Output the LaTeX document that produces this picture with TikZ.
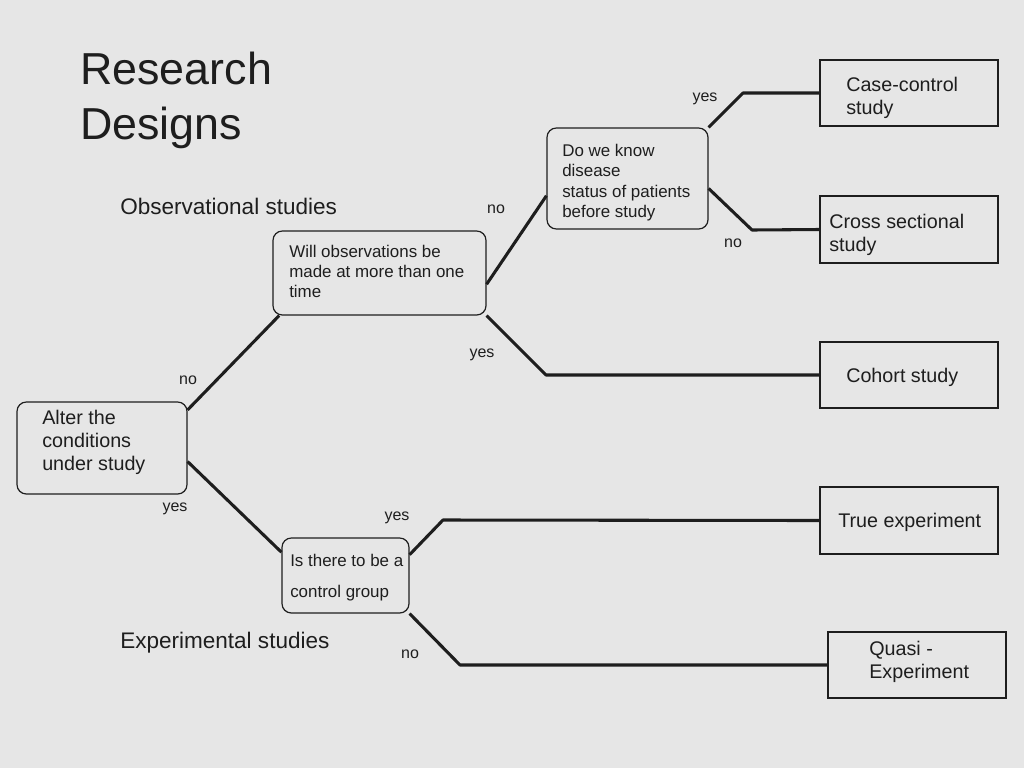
\documentclass[tikz,border=0pt]{standalone}
\usepackage{fontspec}
\setmainfont{Liberation Sans}
\definecolor{bg}{HTML}{E6E6E6}
\definecolor{ink}{HTML}{1E1E1E}
\begin{document}
\begin{tikzpicture}[x=0.75pt,y=-0.75pt,
  rbox/.style={draw=ink, line width=0.9pt, rounded corners=7pt, inner sep=0pt},
  sbox/.style={draw=ink, line width=0.9pt, inner sep=0pt, minimum width=133.5pt},
  txt/.style={text=ink, inner sep=0pt, anchor=north west, align=left},
  big/.style={txt, font=\fontsize{14.8}{17.4}\selectfont},
  small/.style={txt, font=\fontsize{12.7}{15.1}\selectfont},
  link/.style={draw=ink, line width=2.3pt, line join=round},
  lab/.style={text=ink, font=\fontsize{12}{14}\selectfont, inner sep=0pt},
  heading/.style={text=ink, font=\fontsize{16.9}{20}\selectfont, inner sep=0pt, anchor=west}]
\fill[bg] (0,0) rectangle (1024,768);
\useasboundingbox (0,0) rectangle (1024,768);

% title and headings
\node[text=ink, font=\fontsize{33.6}{41.2}\selectfont, inner sep=0pt, anchor=west, align=left] (title) at (80,100) {Research\\Designs};
\node[heading] (obs) at (120,206) {Observational studies};
\node[heading] (exp) at (120,643) {Experimental studies};

% question boxes
\node[rbox, minimum width=127.5pt, minimum height=69pt] (alter) at (102,448) {};
\node[rbox, minimum width=159.75pt, minimum height=63pt] (will) at (379.5,273) {};
\node[rbox, minimum width=120.75pt, minimum height=75.75pt] (do) at (627.5,178.5) {};
\node[rbox, minimum width=95.25pt, minimum height=56.25pt] (is) at (345.5,575.5) {};

\node[big, font=\fontsize{14.8}{17.25}\selectfont] (alterT) at (42,410.2) {Alter the\\conditions\\under study};
\node[small, font=\fontsize{12.7}{15}\selectfont] (willT) at (289,245.1) {Will observations be\\made at more than one\\time};
\node[small, font=\fontsize{12.7}{15.2}\selectfont] (doT) at (562,144.1) {Do we know\\disease\\status of patients\\before study};
\node[small, font=\fontsize{12.7}{23.25}\selectfont] (isT) at (290,554.1) {Is there to be a\\control group};

% outcome boxes
\node[sbox, minimum height=49.5pt] (case) at (909,93) {};
\node[sbox, minimum height=50.25pt] (cross) at (909,229.5) {};
\node[sbox, minimum height=49.5pt] (cohort) at (909,375) {};
\node[sbox, minimum height=50.25pt] (true) at (909,520.5) {};
\node[sbox, minimum height=49.5pt] (quasi) at (917,665) {};

\node[big] (caseT) at (846,77.2) {Case-control\\study};
\node[big] (crossT) at (829,214.2) {Cross sectional\\study};
\node[big] (cohortT) at (846,368.2) {Cohort study};
\node[big] (trueT) at (838,513.2) {True experiment};
\node[big] (quasiT) at (869,641.2) {Quasi -\\Experiment};

% bend points
\coordinate (b1) at (743,93);
\coordinate (b2) at (752,230);
\coordinate (b3) at (546,375);
\coordinate (b4) at (443,520);
\coordinate (b5) at (460,665);

% connectors
\draw[link] (alter.24) -- (will.203);
\draw[link] (alter.-9) -- (is.160);
\draw[link] (will.-6) -- (do.192);
\draw[link] (will.south east) -- (b3) -- (cohort.west);
\draw[link] (do.north east) -- (b1) -- (case.west);
\draw[link] (do.-7) -- (b2) -- (cross.west);
\draw[link] (is.18) -- (b4) -- (true.west);
\draw[link] (is.south east) -- (b5) -- (quasi.west);

% labels
\node[lab] (l1) at (188,380) {no};
\node[lab] (l2) at (175,509) {yes};
\node[lab] (l3) at (496,209) {no};
\node[lab] (l4) at (482,355) {yes};
\node[lab] (l5) at (705,99) {yes};
\node[lab] (l6) at (733,243) {no};
\node[lab] (l7) at (397,518) {yes};
\node[lab] (l8) at (410,654) {no};
\end{tikzpicture}
\end{document}
